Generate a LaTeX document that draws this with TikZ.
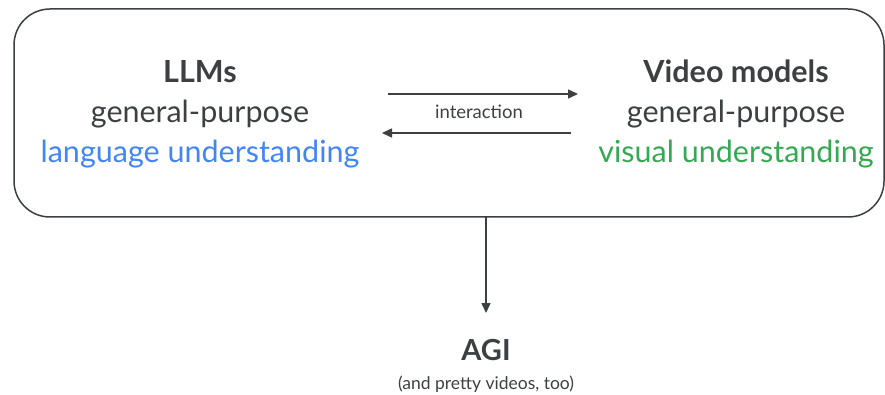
\documentclass[tikz,border=0pt]{standalone}
\usepackage{fontspec}
\setmainfont{Lato}
\usetikzlibrary{arrows.meta}
\definecolor{ink}{HTML}{3C4043}
\definecolor{gblue}{HTML}{4285F4}
\definecolor{ggreen}{HTML}{34A853}
\tikzset{
  frame/.style={draw=ink, line width=1.5pt, rounded corners=36pt},
  conn/.style={draw=ink, line width=1.5pt, -{Triangle[length=10pt,width=9pt]}},
  big/.style={text=ink, font=\fontsize{30.5}{36}\selectfont, inner sep=0pt, anchor=base},
  small/.style={text=ink, font=\fontsize{18}{22}\selectfont, inner sep=0pt, anchor=base},
}
\begin{document}
\begin{tikzpicture}[x=1pt,y=-1pt]
\useasboundingbox (0,0) rectangle (885,395);
\draw[frame] (14,9) rectangle (884,217);
\node[big, font=\fontsize{30.5}{36}\selectfont\bfseries] (llm) at (200,83) {LLMs};
\node[big] (llm2) at (200,123) {general-purpose};
\node[big, text=gblue] (llm3) at (200,163) {language understanding};
\node[big, font=\fontsize{30.5}{36}\selectfont\bfseries] (vid) at (736,83) {Video models};
\node[big] (vid2) at (736,123) {general-purpose};
\node[big, text=ggreen] (vid3) at (736,163) {visual understanding};
\coordinate (a1) at (388,94);
\coordinate (a2) at (578,94);
\coordinate (b1) at (571,133);
\coordinate (b2) at (382,133);
\draw[conn] (a1) -- (a2);
\draw[conn] (b1) -- (b2);
\node[small, font=\fontsize{18.5}{22}\selectfont] (int) at (479,119) {interaction};
\coordinate (top) at (486,217);
\node[big, font=\fontsize{29}{30}\selectfont\bfseries] (agi) at (486,360) {AGI};
\node[small, font=\fontsize{17.5}{22}\selectfont] (sub) at (486,389) {(and pretty videos, too)};
\draw[conn] (top) -- (agi.north |- 0,313);
\end{tikzpicture}
\end{document}
